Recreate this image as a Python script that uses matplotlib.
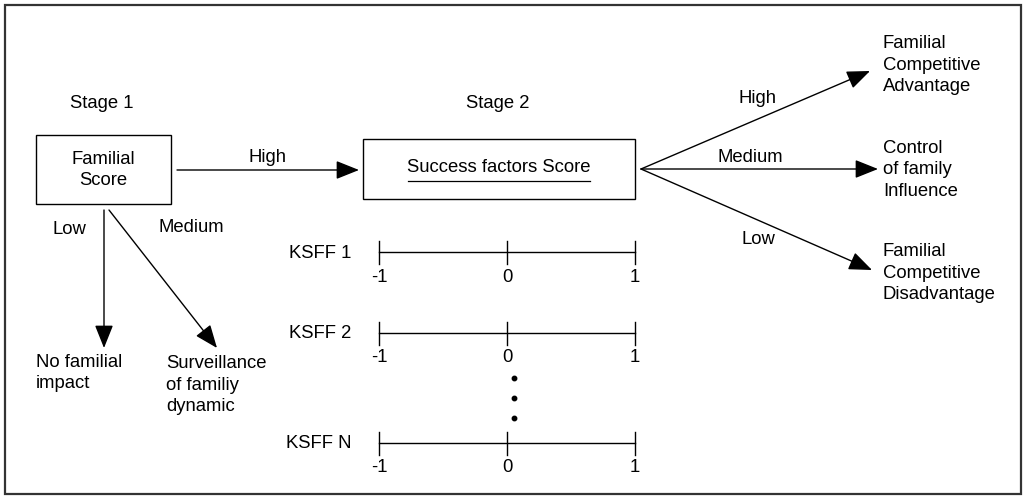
import matplotlib.pyplot as plt
from matplotlib.patches import Rectangle, FancyArrowPatch

plt.rcParams['font.family'] = ['Liberation Sans', 'DejaVu Sans']

# labels and values
stages = ['Stage 1', 'Stage 2']
levels = ['High', 'Medium', 'Low']
stage1_outcomes = ['No familial\nimpact', 'Surveillance\nof familiy\ndynamic']
stage2_outcomes = ['Familial\nCompetitive\nAdvantage', 'Control\nof family\nInfluence',
                   'Familial\nCompetitive\nDisadvantage']
factors = ['KSFF 1', 'KSFF 2', 'KSFF N']
scale_ticks = [-1, 0, 1]

W, H = 1026, 499
fig = plt.figure(figsize=(W / 100, H / 100), dpi=100)
ax = fig.add_axes([0, 0, 1, 1])
ax.set_xlim(0, W)
ax.set_ylim(H, 0)
ax.axis('off')

FS = 13.3
LS = 1.0
LSP = 1.38


def arrow(p0, p1):
    a = FancyArrowPatch(p0, p1, arrowstyle='-|>,head_length=0.75,head_width=0.3',
                        mutation_scale=19, lw=LS, color='black', shrinkA=0, shrinkB=0)
    ax.add_patch(a)


# outer frame
ax.add_patch(Rectangle((5, 5), 1016, 489, fill=False, lw=1.6, ec='#333333'))

# stage 1
ax.text(102, 103, stages[0], ha='center', va='center', fontsize=FS)
ax.add_patch(Rectangle((36, 135), 135, 69, fill=False, lw=LS, ec='black'))
ax.text(103, 170, 'Familial\nScore', ha='center', va='center', fontsize=FS, linespacing=LSP)

arrow((177, 170), (359, 170))
ax.text(267, 158, levels[0], ha='center', va='center', fontsize=FS)

arrow((104, 210), (104, 348))
arrow((109, 210), (217, 348))
ax.text(69, 230, levels[2], ha='center', va='center', fontsize=FS)
ax.text(191, 228, levels[1], ha='center', va='center', fontsize=FS)
ax.text(36, 373, stage1_outcomes[0], ha='left', va='center', fontsize=FS, linespacing=LSP)
ax.text(166, 385, stage1_outcomes[1], ha='left', va='center', fontsize=FS, linespacing=LSP)

# stage 2
ax.text(498, 103, stages[1], ha='center', va='center', fontsize=FS)
ax.add_patch(Rectangle((363, 139), 272, 60, fill=False, lw=LS, ec='black'))
ax.text(499, 168, 'Success factors Score', ha='center', va='center', fontsize=FS)
ax.plot([408, 590], [181, 181], color='black', lw=0.9)

# factor scales
x0, x1 = 379, 635
scale_y = [252, 333, 443]
for name, y in zip(factors, scale_y):
    ax.text(351, y + 1, name, ha='right', va='center', fontsize=FS)
    ax.plot([x0, x1], [y, y], color='black', lw=LS)
    for t in scale_ticks:
        x = x0 + (t - scale_ticks[0]) / (scale_ticks[-1] - scale_ticks[0]) * (x1 - x0)
        ax.plot([x, x], [y - 11, y + 12], color='black', lw=LS)
        ax.text(x, y + 25, str(t), ha='center', va='center', fontsize=FS)
for y in [378, 398, 418]:
    ax.plot(514, y, 'o', color='black', ms=3.2)

# fan of outcomes
origin = (641, 169)
ends = [(870, 71), (878, 169), (872, 270)]
lbl_pos = [(758, 98), (750, 158), (758, 240)]
out_y = [65, 170, 273]
for lvl, end, lp, oy, out in zip(levels, ends, lbl_pos, out_y, stage2_outcomes):
    arrow(origin, end)
    ax.text(lp[0], lp[1], lvl, ha='center', va='center', fontsize=FS)
    ax.text(883, oy, out, ha='left', va='center', fontsize=FS, linespacing=LSP)

fig.savefig('out.png', dpi=100)
